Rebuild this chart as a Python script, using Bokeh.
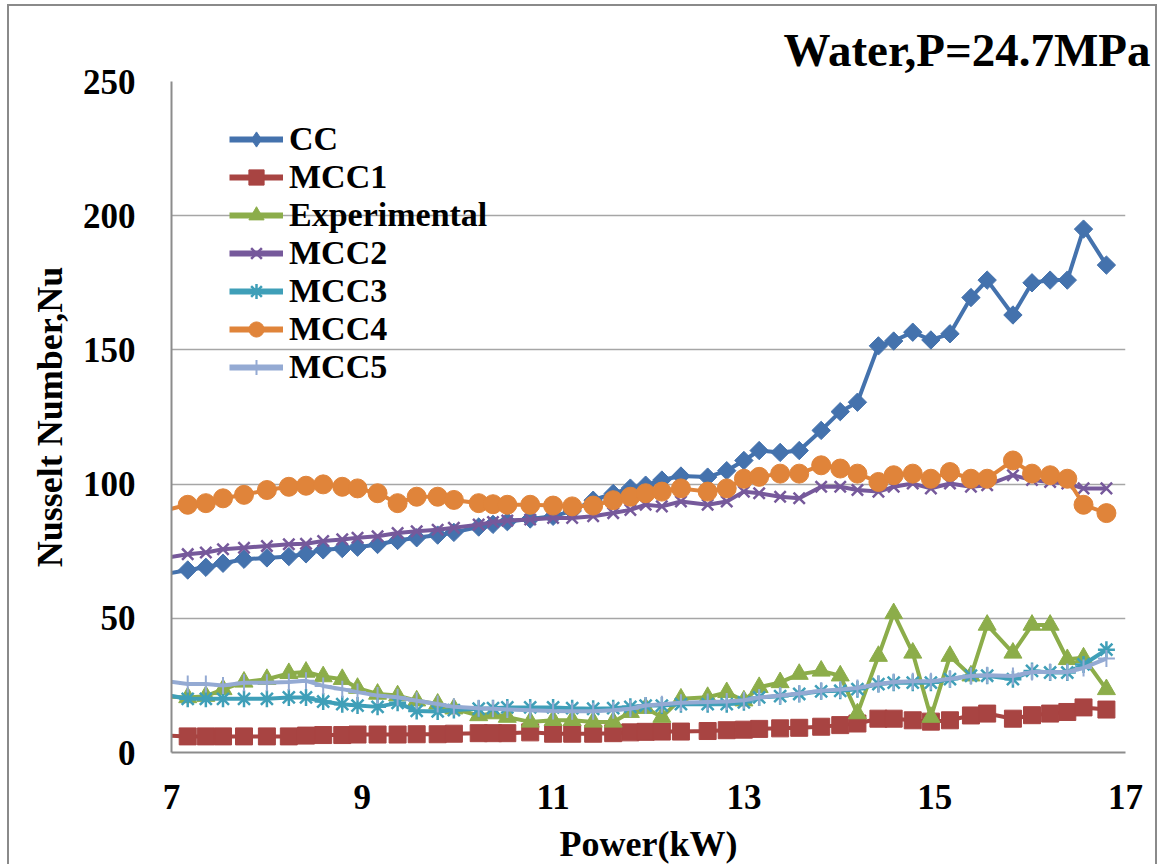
from bokeh.plotting import figure
from bokeh.models import Legend, LegendItem, Title, FixedTicker
from bokeh.embed import file_html
from bokeh.resources import INLINE
import numpy as np

# ---- data ----
power = [6.85, 7.17, 7.36, 7.54, 7.76, 8.00, 8.23, 8.41, 8.59, 8.79, 8.95, 9.16, 9.37, 9.57,
         9.79, 9.96, 10.22, 10.37, 10.52, 10.76, 11.00, 11.20, 11.42, 11.63, 11.81, 11.97,
         12.14, 12.34, 12.62, 12.82, 13.00, 13.16, 13.38, 13.58, 13.81, 14.01, 14.19, 14.41,
         14.57, 14.77, 14.96, 15.16, 15.38, 15.55, 15.82, 16.02, 16.21, 16.39, 16.56, 16.80]

cc = [66, 68, 69, 70.5, 72, 72.5, 73, 74, 75.5, 76, 76.5, 77.5, 79, 80,
      81, 82, 84, 85, 86, 87, 88, 90, 94, 96.5, 98.5, 99.6,
      101.5, 103, 102.6, 105, 108.8, 112.5, 111.8, 112.5, 120, 127, 130.5, 151.5,
      153.3, 156.6, 153.7, 156, 169.5, 176, 163, 175, 176, 176, 195, 181.6]

mcc1 = [6.5, 6, 6, 6, 6, 6, 6, 6.3, 6.5, 6.5, 6.7, 6.7, 6.7, 6.8,
        6.8, 7, 7.2, 7.2, 7.2, 7.5, 7, 7, 7, 7.2, 7.5, 7.7,
        7.8, 7.8, 8, 8.3, 8.5, 8.8, 9, 9.2, 9.6, 10.2, 10.8, 12.6,
        12.6, 12, 11.5, 12, 13.8, 14.5, 12.6, 13.9, 14.5, 15.1, 16.8, 16]

experimental = [21, 20.5, 21, 23.5, 26.3, 27.3, 29.5, 30, 28.3, 27.3, 24, 21.8, 21.2, 19.3,
                18.1, 16.3, 13.8, 14.5, 13.2, 11.4, 12, 12, 11.4, 11.4, 15, 16.5,
                13.2, 20, 20.6, 22.4, 19.3, 24.3, 26.1, 29.2, 30.4, 28.6, 14.5, 35.9,
                51.8, 37.1, 13.2, 35.9, 28.6, 47.5, 37.1, 47.5, 47.5, 34.7, 35.3, 23.5]

mcc2 = [72, 73.9, 74.5, 75.7, 76.3, 76.9, 77.6, 77.8, 78.8, 79.4, 80, 80.6, 81.8, 82.4,
        83, 83.7, 84.9, 85.9, 86.4, 86.8, 87.4, 87.4, 88, 89.2, 90.4, 92.3,
        91.7, 93.5, 92.3, 93.5, 97.2, 96.6, 95.3, 94.7, 99, 99, 97.8, 97.2,
        99, 100.2, 98.4, 100.2, 99, 99.6, 103.3, 101.5, 100.8, 100.2, 98.4, 98.4]

mcc3 = [22, 20, 20, 20, 20, 20, 20.5, 20.5, 19, 18, 17.5, 17, 18.5, 15.5,
        15.3, 15.8, 16.3, 16.5, 16.8, 16.8, 16.8, 16.5, 16.3, 16.5, 17, 17.5,
        17.5, 18, 18, 18, 18.7, 20.5, 21, 21.8, 22.8, 23, 23.6, 25.5,
        26, 26, 26, 27.3, 28.6, 28.6, 27.3, 30.4, 29.8, 29.8, 32.8, 38.3]

mcc4 = [89.5, 92.3, 92.9, 94.7, 96, 97.8, 99, 99.4, 99.9, 99, 98.4, 96.6, 92.9, 95.3,
        95.3, 94.1, 92.9, 92.5, 92.3, 92.3, 92, 91.7, 92, 94, 95.3, 96.6,
        97.2, 98.4, 97.2, 98.4, 102, 102.7, 103.9, 103.9, 107, 105.8, 103.9, 100.8,
        103.3, 103.9, 102, 104.5, 102, 102, 108.8, 103.9, 103.3, 102, 92.3, 89.2]

mcc5 = [27, 25.5, 25.5, 25, 26, 26, 26.3, 26.7, 24.8, 23.6, 22.5, 21.2, 20.6, 19.3,
        18.1, 17, 16.5, 16.3, 16, 15.7, 15.5, 15.4, 15.4, 15.7, 16.3, 17.5,
        18, 18.5, 18.8, 19, 19.5, 20.5, 21.2, 22, 23, 23.5, 24, 25.5,
        26.3, 26.5, 26.5, 27.5, 28.5, 28.8, 28.5, 30, 30, 30, 31.5, 35]

series_names = ["CC", "MCC1", "Experimental", "MCC2", "MCC3", "MCC4", "MCC5"]
x_ticks = [7, 9, 11, 13, 15, 17]
y_ticks = [0, 50, 100, 150, 200, 250]

FONT = "Liberation Serif"

p = figure(width=1150, height=860, x_range=(7, 17), y_range=(0, 250),
           output_backend="svg", toolbar_location=None,
           min_border_left=162, min_border_right=34, min_border_top=75, min_border_bottom=105)
p.styles = {"margin-left": "7px", "margin-top": "4px",
            "border-left": "2px solid #8a8a8a", "border-top": "2px solid #8a8a8a",
            "border-right": "2px solid #8a8a8a"}
p.outline_line_color = None
p.background_fill_color = "white"
p.border_fill_color = "white"

p.title = Title(text="Water,P=24.7MPa", align="right", offset=-25, standoff=12,
                text_font=FONT, text_font_style="bold", text_font_size="47px",
                text_color="black")

p.xgrid.grid_line_color = None
p.ygrid.grid_line_color = "#a6a6a6"
p.ygrid.grid_line_width = 1.5

p.xaxis.ticker = FixedTicker(ticks=x_ticks)
p.yaxis.ticker = FixedTicker(ticks=y_ticks)
for ax in (p.xaxis, p.yaxis):
    ax.axis_line_color = "#8c8c8c"
    ax.axis_line_width = 2
    ax.major_tick_line_color = None
    ax.minor_tick_line_color = None
    ax.major_label_text_font = FONT
    ax.major_label_text_font_style = "bold"
    ax.major_label_text_font_size = "35px"
    ax.major_label_text_color = "black"
    ax.axis_label_text_font = FONT
    ax.axis_label_text_font_style = "bold"
    ax.axis_label_text_font_size = "36px"
    ax.axis_label_text_color = "black"
p.xaxis.major_label_standoff = 26
p.yaxis.major_label_standoff = 30
p.xaxis.axis_label = "Power(kW)"
p.yaxis.axis_label = "Nusselt Number,Nu"
p.xaxis.axis_label_standoff = 12
p.yaxis.axis_label_standoff = 10

colors = ["#4472ad", "#a84442", "#8cad4a", "#76599b", "#3f9fb8", "#e0843a", "#94aad3"]
data = [cc, mcc1, experimental, mcc2, mcc3, mcc4, mcc5]
off_x, off_y = [-100], [-100]   # legend-only renderers sit outside the visible range
items = []
for name, ys, col in zip(series_names, data, colors):
    p.line(power, ys, line_color=col, line_width=4)
    if name == "CC":
        p.scatter(power, ys, marker="square", angle=np.pi / 4, size=13,
                  fill_color=col, line_color=col)
        kw = dict(marker="diamond", size=22, fill_color=col, line_color=col)
    elif name == "MCC1":
        kw = dict(marker="square", size=17, fill_color=col, line_color=col)
        p.scatter(power, ys, **kw)
    elif name == "Experimental":
        kw = dict(marker="triangle", size=18, fill_color=col, line_color=col)
        p.scatter(power, ys, **kw)
    elif name == "MCC2":
        kw = dict(marker="x", size=16, line_color=col, line_width=2.5)
        p.scatter(power, ys, **kw)
    elif name == "MCC3":
        kw = dict(marker="asterisk", size=17, line_color=col, line_width=2.5)
        p.scatter(power, ys, **kw)
    elif name == "MCC4":
        kw = dict(marker="circle", size=19, fill_color=col, line_color=col)
        p.scatter(power, ys, **kw)
    else:
        kw = dict(marker="cross", size=17, line_color=col, line_width=2)
        p.scatter(power, ys, **kw)
    r_legline = p.line(off_x + [-99], off_y + [-99], line_color=col, line_width=6)
    r_legmark = p.scatter(off_x, off_y, **kw)
    items.append(LegendItem(label=name, renderers=[r_legline, r_legmark]))

legend = Legend(items=items, location=(58, 366), orientation="vertical",
                background_fill_alpha=0, border_line_alpha=0,
                label_text_font=FONT, label_text_font_style="bold",
                label_text_font_size="34px", label_text_color="black",
                glyph_width=54, glyph_height=38, label_height=38, spacing=0,
                label_standoff=6, padding=0, margin=0)
p.add_layout(legend, "center")

open("out.html", "w").write(file_html(p, INLINE))
